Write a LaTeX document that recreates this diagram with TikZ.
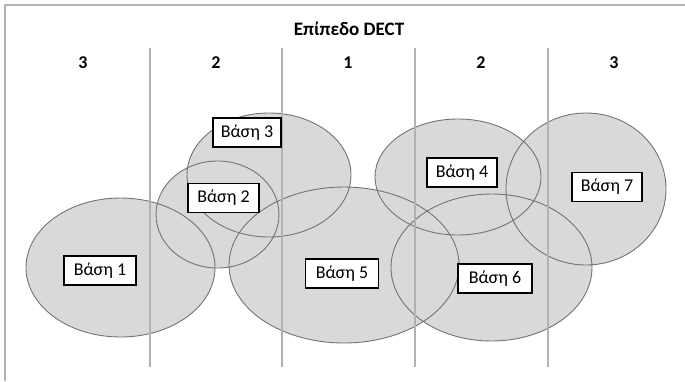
\documentclass[tikz,border=0pt]{standalone}
\usepackage{fontspec}
\setmainfont{Carlito}
\usepackage{xcolor}
\definecolor{cellgray}{rgb}{0.85,0.85,0.85}
\definecolor{rimgray}{rgb}{0.45,0.45,0.45}
\definecolor{linegray}{rgb}{0.70,0.70,0.70}
\tikzset{
  basebox/.style={draw=black,line width=1.6pt,fill=white,inner sep=0pt,
    minimum width=70pt,minimum height=29pt,font=\fontsize{18}{20}\selectfont},
  colnum/.style={font=\bfseries\fontsize{18}{20}\selectfont}
}

\begin{document}
\begin{tikzpicture}[x=1pt,y=-1pt]
        \useasboundingbox (0,0) rectangle (685,381);
        % frame
        \draw[linegray,line width=2pt] (5,381) -- (5,5) -- (685,5);
        % cells
        \fill[cellgray] (120.5,267.5) ellipse (94.5 and 69.5);
        \fill[cellgray] (269,175) ellipse (82 and 62);
        \fill[cellgray] (217.5,214.5) ellipse (61.5 and 53.5);
        \fill[cellgray] (344,265) ellipse (115 and 78);
        \fill[cellgray] (458,177) ellipse (83 and 58);
        \fill[cellgray] (586,189) ellipse (80 and 76);
        \fill[cellgray] (491.5,267.5) ellipse (100.5 and 73.5);
        \draw[rimgray,line width=0.9pt] (120.5,267.5) ellipse (94.5 and 69.5);
        \draw[rimgray,line width=0.9pt] (269,175) ellipse (82 and 62);
        \draw[rimgray,line width=0.9pt] (217.5,214.5) ellipse (61.5 and 53.5);
        \draw[rimgray,line width=0.9pt] (344,265) ellipse (115 and 78);
        \draw[rimgray,line width=0.9pt] (458,177) ellipse (83 and 58);
        \draw[rimgray,line width=0.9pt] (586,189) ellipse (80 and 76);
        \draw[rimgray,line width=0.9pt] (491.5,267.5) ellipse (100.5 and 73.5);
        % columns
        \foreach \x in {150,282,415,548}
            \draw[linegray,line width=1.5pt] (\x,48) -- (\x,367);
        % text
        \node[font=\bfseries\fontsize{19}{21}\selectfont] (title) at (349,28.5) {Επίπεδο DECT};
        \node[colnum] (c1) at (83,63) {3};
        \node[colnum] (c2) at (216,63) {2};
        \node[colnum] (c3) at (348,63) {1};
        \node[colnum] (c4) at (481,63) {2};
        \node[colnum] (c5) at (614,63) {3};
        % bases
        \node[basebox,minimum width=72pt] (b1) at (100,270.5) {Βάση 1};
        \node[basebox,minimum width=71pt] (b2) at (223.5,198) {Βάση 2};
        \node[basebox,minimum width=68pt] (b3) at (247,132.5) {Βάση 3};
        \node[basebox] (b4) at (462,172.5) {Βάση 4};
        \node[basebox,minimum width=73pt] (b5) at (342,273.5) {Βάση 5};
        \node[basebox,minimum width=74pt] (b6) at (495,278.5) {Βάση 6};
        \node[basebox] (b7) at (607,187) {Βάση 7};
    \end{tikzpicture}
\end{document}
